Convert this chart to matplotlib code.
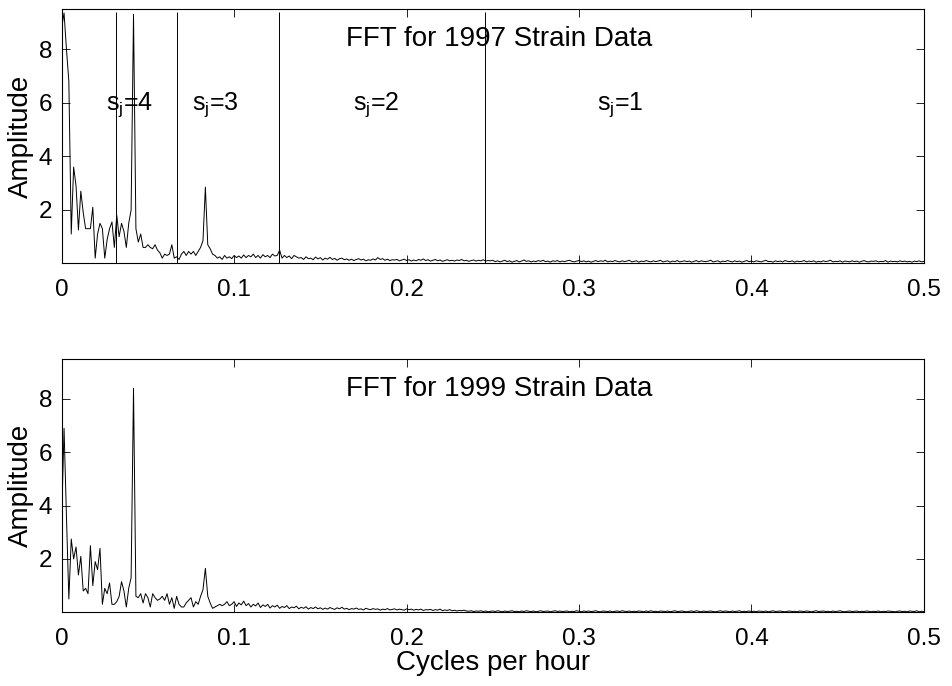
"""FFT amplitude spectra of the 1997 and 1999 strain records."""

import matplotlib

matplotlib.use("Agg")
import matplotlib.pyplot as plt
import numpy as np

plt.rcParams["font.family"] = ["Liberation Sans", "DejaVu Sans"]
plt.rcParams["mathtext.fontset"] = "custom"
plt.rcParams["mathtext.rm"] = "Liberation Sans"
plt.rcParams["mathtext.it"] = "Liberation Sans"

# hourly record, 720 h -> spectral bins at k / 720 cycles per hour
N_HOURS = 720

amp_1997 = [
    8.8, 9.35, 8.0, 6.8, 1.1, 3.6, 2.9, 1.25, 2.7, 1.9,
    1.3, 1.3, 1.3, 2.1, 0.2, 1.1, 1.5, 1.3, 0.2, 0.9,
    1.3, 1.55, 0.6, 1.8, 1.0, 1.5, 1.2, 0.6, 1.5, 2.0,
    9.3, 1.3, 0.8, 1.1, 0.6, 0.6, 0.7, 0.6, 0.55, 0.7,
    0.5, 0.4, 0.2, 0.35, 0.3, 0.35, 0.7, 0.2, 0.25, 0.15,
    0.35, 0.45, 0.3, 0.45, 0.35, 0.45, 0.3, 0.45, 0.6, 0.85,
    2.85, 0.7, 0.55, 0.35, 0.3, 0.2, 0.25, 0.15, 0.3, 0.2,
    0.25, 0.18, 0.3, 0.22, 0.28, 0.2, 0.32, 0.22, 0.3, 0.25,
    0.35, 0.22, 0.3, 0.2, 0.33, 0.25, 0.3, 0.22, 0.35, 0.28,
    0.3, 0.5, 0.2, 0.3, 0.22, 0.28, 0.18, 0.3, 0.25, 0.2,
    0.22, 0.15, 0.25, 0.18, 0.2, 0.14, 0.24, 0.17, 0.22, 0.13,
    0.2, 0.16, 0.23, 0.15, 0.19, 0.12, 0.18, 0.2, 0.14, 0.17,
    0.12, 0.16, 0.11, 0.15, 0.18, 0.13, 0.16, 0.1, 0.14, 0.12,
    0.17, 0.13, 0.22, 0.15, 0.18, 0.12, 0.16, 0.11, 0.14, 0.13,
    0.15, 0.1, 0.13, 0.16, 0.11, 0.14, 0.09, 0.13, 0.1, 0.15,
    0.12, 0.17, 0.11, 0.14, 0.09, 0.12, 0.15, 0.1, 0.13, 0.08,
    0.11, 0.14, 0.1, 0.12, 0.09, 0.13, 0.11, 0.15, 0.1, 0.12,
    0.08, 0.11, 0.13, 0.09, 0.12, 0.1, 0.14, 0.09, 0.11, 0.1,
    0.12, 0.07, 0.1, 0.06, 0.09, 0.12, 0.07, 0.1, 0.05, 0.08,
    0.11, 0.06, 0.09, 0.13, 0.08, 0.1, 0.06, 0.09, 0.07, 0.11,
    0.08, 0.12, 0.07, 0.09, 0.05, 0.1, 0.08, 0.11, 0.06, 0.09,
    0.07, 0.1, 0.12, 0.08, 0.06, 0.09, 0.11, 0.07, 0.1, 0.06,
    0.09, 0.05, 0.08, 0.11, 0.07, 0.1, 0.08, 0.12, 0.06, 0.09,
    0.07, 0.11, 0.08, 0.06, 0.1, 0.07, 0.09, 0.12, 0.06, 0.08,
    0.1, 0.05, 0.09, 0.07, 0.11, 0.08, 0.06, 0.1, 0.07, 0.09,
    0.12, 0.06, 0.08, 0.1, 0.05, 0.09, 0.07, 0.11, 0.06, 0.08,
    0.1, 0.07, 0.09, 0.05, 0.08, 0.11, 0.06, 0.1, 0.08, 0.07,
    0.09, 0.12, 0.06, 0.08, 0.1, 0.05, 0.09, 0.07, 0.11, 0.08,
    0.06, 0.1, 0.07, 0.09, 0.05, 0.08, 0.11, 0.07, 0.09, 0.06,
    0.1, 0.08, 0.06, 0.09, 0.12, 0.07, 0.08, 0.05, 0.1, 0.07,
    0.09, 0.06, 0.11, 0.08, 0.07, 0.1, 0.05, 0.09, 0.07, 0.08,
    0.11, 0.06, 0.09, 0.07, 0.1, 0.05, 0.08, 0.06, 0.1, 0.07,
    0.09, 0.12, 0.06, 0.08, 0.07, 0.1, 0.05, 0.09, 0.08, 0.06,
    0.1, 0.07, 0.09, 0.05, 0.08, 0.11, 0.07, 0.06, 0.09, 0.08,
    0.1, 0.06, 0.08, 0.07, 0.11, 0.05, 0.09, 0.07, 0.08, 0.06,
    0.1, 0.07, 0.09, 0.06, 0.08, 0.05, 0.09, 0.07, 0.1, 0.06,
    0.08,
]

amp_1999 = [
    3.5, 6.9, 3.6, 0.5, 2.75, 2.0, 2.45, 1.4, 2.1, 0.8,
    0.9, 0.7, 2.5, 1.0, 1.9, 1.6, 2.4, 0.3, 0.9, 0.7,
    1.1, 0.3, 0.3, 0.4, 0.6, 1.15, 0.8, 0.2, 0.9, 1.3,
    8.4, 0.6, 0.55, 0.7, 0.35, 0.7, 0.55, 0.2, 0.7, 0.55,
    0.45, 0.5, 0.6, 0.45, 0.7, 0.3, 0.55, 0.15, 0.6, 0.3,
    0.2, 0.2, 0.35, 0.45, 0.55, 0.2, 0.4, 0.3, 0.6, 0.85,
    1.65, 0.6, 0.35, 0.15, 0.2, 0.25, 0.3, 0.25, 0.3, 0.4,
    0.25, 0.3, 0.4, 0.22, 0.35, 0.28, 0.42, 0.25, 0.33, 0.2,
    0.3, 0.24, 0.35, 0.18, 0.28, 0.22, 0.3, 0.16, 0.25, 0.2,
    0.27, 0.15, 0.22, 0.18, 0.25, 0.14, 0.2, 0.17, 0.23, 0.13,
    0.19, 0.15, 0.21, 0.12, 0.18, 0.14, 0.2, 0.13, 0.17, 0.11,
    0.16, 0.12, 0.18, 0.14, 0.11, 0.17, 0.13, 0.19, 0.12, 0.15,
    0.1, 0.14, 0.12, 0.16, 0.11, 0.13, 0.09, 0.15, 0.12, 0.1,
    0.14, 0.11, 0.13, 0.08, 0.12, 0.1, 0.14, 0.09, 0.11, 0.13,
    0.09, 0.12, 0.1, 0.08, 0.13, 0.1, 0.12, 0.08, 0.11, 0.09,
    0.12, 0.07, 0.1, 0.09, 0.11, 0.07, 0.1, 0.08, 0.12, 0.06,
    0.09, 0.07, 0.1, 0.06, 0.08, 0.05, 0.07, 0.06, 0.08, 0.05,
    0.04, 0.06, 0.03, 0.05, 0.04, 0.06, 0.03, 0.05, 0.02, 0.04,
    0.05, 0.03, 0.06, 0.04, 0.02, 0.05, 0.03, 0.04, 0.06, 0.03,
    0.04, 0.02, 0.05, 0.03, 0.06, 0.04, 0.03, 0.05, 0.02, 0.04,
    0.06, 0.03, 0.04, 0.05, 0.02, 0.04, 0.06, 0.03, 0.05, 0.03,
    0.04, 0.05, 0.02, 0.04, 0.03, 0.06, 0.04, 0.02, 0.05, 0.03,
    0.05, 0.03, 0.04, 0.06, 0.03, 0.02, 0.05, 0.04, 0.03, 0.05,
    0.02, 0.04, 0.05, 0.03, 0.06, 0.04, 0.03, 0.05, 0.02, 0.04,
    0.03, 0.05, 0.04, 0.02, 0.05, 0.03, 0.06, 0.03, 0.04, 0.02,
    0.05, 0.04, 0.03, 0.05, 0.02, 0.04, 0.06, 0.03, 0.04, 0.05,
    0.03, 0.02, 0.04, 0.05, 0.03, 0.06, 0.04, 0.02, 0.05, 0.03,
    0.04, 0.05, 0.03, 0.02, 0.04, 0.06, 0.03, 0.05, 0.04, 0.02,
    0.05, 0.03, 0.04, 0.06, 0.02, 0.04, 0.03, 0.05, 0.03, 0.04,
    0.02, 0.05, 0.04, 0.03, 0.05, 0.02, 0.04, 0.06, 0.03, 0.04,
    0.05, 0.03, 0.02, 0.04, 0.05, 0.03, 0.04, 0.02, 0.05, 0.04,
    0.03, 0.05, 0.04, 0.02, 0.04, 0.06, 0.03, 0.04, 0.05, 0.03,
    0.04, 0.02, 0.05, 0.03, 0.04, 0.06, 0.03, 0.02, 0.04, 0.05,
    0.03, 0.04, 0.05, 0.02, 0.04, 0.03, 0.05, 0.04, 0.02, 0.04,
    0.03, 0.05, 0.02, 0.04, 0.03, 0.05, 0.04, 0.03, 0.02, 0.04,
    0.05, 0.03, 0.04, 0.02, 0.05, 0.04, 0.03, 0.06, 0.02, 0.04,
    0.03,
]

# scale boundaries drawn on the 1997 panel
band_edges = [0.03165, 0.0671, 0.1261, 0.2457]
band_labels = ["s$_\\mathrm{j}$=4", "s$_\\mathrm{j}$=3", "s$_\\mathrm{j}$=2", "s$_\\mathrm{j}$=1"]
band_label_x = [0.0257, 0.0756, 0.169, 0.3107]

x_ticks = [0, 0.1, 0.2, 0.3, 0.4, 0.5]
x_tick_labels = ["0", "0.1", "0.2", "0.3", "0.4", "0.5"]
y_ticks = [2, 4, 6, 8]
titles = ["FFT for 1997 Strain Data", "FFT for 1999 Strain Data"]


def style_axis(axis, title):
    axis.set_xlim(0, 0.5)
    axis.set_ylim(0, 9.5)
    axis.set_xticks(x_ticks)
    axis.set_xticklabels(x_tick_labels)
    axis.set_yticks(y_ticks)
    axis.tick_params(direction="in", top=True, right=True, length=6,
                     width=0.6, labelsize=17.5)
    axis.tick_params(axis="x", pad=11)
    axis.tick_params(axis="y", pad=7)
    for spine in axis.spines.values():
        spine.set_linewidth(0.8)
    axis.set_ylabel("Amplitude", fontsize=20, labelpad=3)
    axis.text(0.165, 8.1, title, fontsize=20, ha="left", va="baseline")


fig = plt.figure(figsize=(9.53, 6.86), dpi=100)
ax_top = fig.add_axes([0.0647, 0.6159, 0.9048, 0.3710])
ax_bot = fig.add_axes([0.0647, 0.1074, 0.9048, 0.3693])

freq_1997 = np.arange(len(amp_1997)) / N_HOURS
freq_1999 = np.arange(len(amp_1999)) / N_HOURS

ax_top.plot(freq_1997, amp_1997, color="k", lw=0.7)
ax_top.vlines(band_edges, 0, 9.4, color="k", lw=0.7)
for x, label in zip(band_label_x, band_labels):
    ax_top.text(x, 5.75, label, fontsize=18, ha="left", va="baseline")
style_axis(ax_top, titles[0])

ax_bot.plot(freq_1999, amp_1999, color="k", lw=0.7)
style_axis(ax_bot, titles[1])
ax_bot.set_xlabel("Cycles per hour", fontsize=20, labelpad=0)

fig.savefig("out.png", dpi=100)
plt.close(fig)
